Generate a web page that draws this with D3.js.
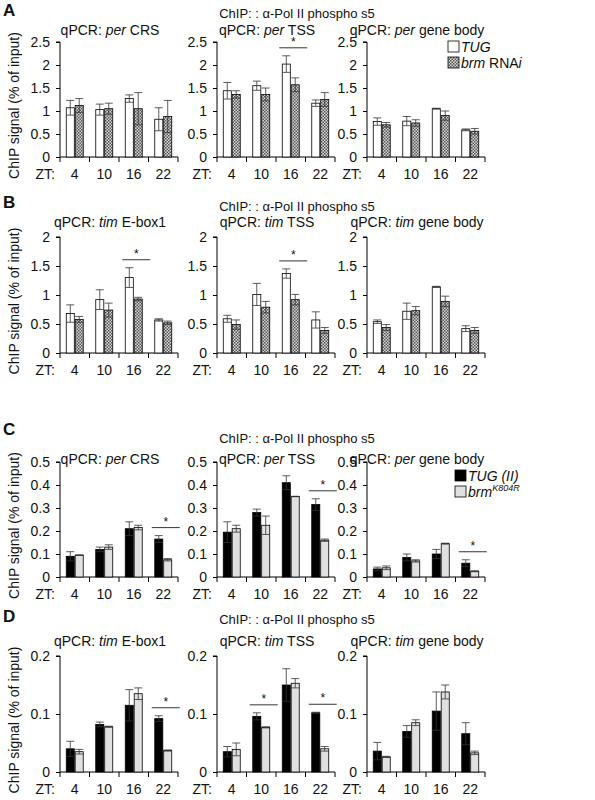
<!DOCTYPE html>
<html><head><meta charset="utf-8">
<script src="https://cdn.jsdelivr.net/npm/d3@7"></script>
<style>body{margin:0;background:#fff} text{font-family:"Liberation Sans",Arial,sans-serif;fill:#111}</style>
</head><body><svg id="c" width="595" height="800"></svg>
<script>
var zt = ["4", "10", "16", "22"];
var titles = {
  A: [["per", " CRS"], ["per", " TSS"], ["per", " gene body"]],
  B: [["tim", " E-box1"], ["tim", " TSS"], ["tim", " gene body"]]
};
titles.C = titles.A; titles.D = titles.B;

// values, errors: [plot][zt]
var aCtl = [[1.07,1.03,1.27,0.82],[1.44,1.55,2.02,1.17],[0.77,0.78,1.05,0.59]];
var aCtlE = [[0.16,0.12,0.08,0.25],[0.18,0.1,0.18,0.07],[0.08,0.1,0.01,0.02]];
var aMut = [[1.12,1.05,1.05,0.88],[1.36,1.36,1.57,1.25],[0.7,0.74,0.9,0.56]];
var aMutE = [[0.15,0.12,0.35,0.35],[0.08,0.14,0.15,0.15],[0.05,0.07,0.1,0.06]];
var aSig = [[],[2],[]];

var bCtl = [[0.68,0.92,1.3,0.57],[0.59,1.01,1.37,0.57],[0.54,0.72,1.14,0.42]];
var bCtlE = [[0.15,0.17,0.17,0.02],[0.06,0.19,0.08,0.14],[0.03,0.14,0.01,0.05]];
var bMut = [[0.58,0.74,0.93,0.52],[0.49,0.79,0.92,0.39],[0.44,0.73,0.89,0.39]];
var bMutE = [[0.05,0.12,0.03,0.03],[0.08,0.1,0.09,0.05],[0.05,0.07,0.09,0.05]];
var bSig = [[2],[2],[]];

var cCtl = [[0.09,0.12,0.21,0.165],[0.195,0.28,0.41,0.315],[0.035,0.085,0.1,0.06]];
var cCtlE = [[0.02,0.01,0.03,0.015],[0.045,0.015,0.03,0.025],[0.008,0.015,0.02,0.015]];
var cMut = [[0.095,0.13,0.215,0.075],[0.21,0.225,0.35,0.16],[0.04,0.07,0.145,0.025]];
var cMutE = [[0.001,0.01,0.01,0.005],[0.015,0.04,0.001,0.005],[0.008,0.005,0.002,0.002]];
var cSig = [[3],[3],[3]];

var dCtl = [[0.04,0.082,0.115,0.092],[0.035,0.096,0.15,0.102],[0.036,0.07,0.105,0.066]];
var dCtlE = [[0.013,0.004,0.027,0.005],[0.009,0.006,0.028,0.001],[0.015,0.01,0.033,0.019]];
var dMut = [[0.035,0.078,0.135,0.037],[0.039,0.077,0.153,0.04],[0.026,0.085,0.138,0.033]];
var dMutE = [[0.004,0.001,0.01,0.001],[0.011,0.001,0.008,0.004],[0.001,0.005,0.012,0.003]];
var dSig = [[3],[1,3],[]];

var oneDec = function(d){ return d === 0 ? "0" : d3.format(".1f")(d); };
var panels = [
  {id:"A", letterY:16, titleY:18, subY:35, y0:157, y1:42, max:2.5, ticks:[0,0.5,1,1.5,2,2.5], fmt:d3.format("~g"), ctl:aCtl, ctlE:aCtlE, mut:aMut, mutE:aMutE, sig:aSig, ctlFill:"#fff", mutFill:"url(#hatch)"},
  {id:"B", letterY:208, titleY:211, subY:227, y0:353, y1:237, max:2, ticks:[0,0.5,1,1.5,2], fmt:d3.format("~g"), ctl:bCtl, ctlE:bCtlE, mut:bMut, mutE:bMutE, sig:bSig, ctlFill:"#fff", mutFill:"url(#hatch)"},
  {id:"C", letterY:435, titleY:443, subY:464, y0:577, y1:462, max:0.5, ticks:[0,0.1,0.2,0.3,0.4,0.5], fmt:oneDec, ctl:cCtl, ctlE:cCtlE, mut:cMut, mutE:cMutE, sig:cSig, ctlFill:"#000", mutFill:"#e0e0e0"},
  {id:"D", letterY:622, titleY:624, subY:646, y0:772, y1:656, max:0.2, ticks:[0,0.1,0.2], fmt:oneDec, ctl:dCtl, ctlE:dCtlE, mut:dMut, mutE:dMutE, sig:dSig, ctlFill:"#000", mutFill:"#e0e0e0"}
];

var colX = [60, 217, 367], plotW = 118;
var svg = d3.select("#c");

var pat = svg.append("defs").append("pattern").attr("id", "hatch")
  .attr("width", 3).attr("height", 3).attr("patternUnits", "userSpaceOnUse");
pat.append("rect").attr("width", 3).attr("height", 3).attr("fill", "#d8d8d8");
pat.append("rect").attr("width", 1.5).attr("height", 1.5).attr("fill", "#555");
pat.append("rect").attr("x", 1.5).attr("y", 1.5).attr("width", 1.5).attr("height", 1.5).attr("fill", "#555");

panels.forEach(function(p) {
  var g = svg.append("g");
  g.append("text").attr("x", 3).attr("y", p.letterY).attr("font-size", 17).attr("font-weight", "bold").text(p.id);
  g.append("text").attr("x", 297).attr("y", p.titleY).attr("text-anchor", "middle").attr("font-size", 13)
    .text("ChIP: : α-Pol II phospho s5");
  g.append("text").attr("transform", "translate(19," + ((p.y0 + p.y1) / 2 + 6) + ") rotate(-90)")
    .attr("text-anchor", "middle").attr("font-size", 14).text("ChIP signal (% of input)");

  var y = d3.scaleLinear().domain([0, p.max]).range([p.y0, p.y1]);

  colX.forEach(function(x0, i) {
    var pg = g.append("g");
    var x = d3.scaleBand().domain(zt).range([x0, x0 + plotW]);
    var inner = d3.scaleBand().domain([0, 1]).range([0, x.bandwidth()]).paddingOuter(0.7).paddingInner(0.1);
    var t = titles[p.id][i];
    var tt = pg.append("text").attr("x", x0 + 50).attr("y", p.subY).attr("text-anchor", "middle").attr("font-size", 14);
    tt.append("tspan").text("qPCR: ");
    tt.append("tspan").attr("font-style", "italic").text(t[0]);
    tt.append("tspan").text(t[1]);

    var ya = pg.append("g").attr("transform", "translate(" + x0 + ",0)")
      .call(d3.axisLeft(y).tickValues(p.ticks).tickFormat(p.fmt).tickSize(4).tickPadding(6));
    ya.selectAll("text").attr("font-size", 14).style("font-family", "Liberation Sans, Arial");
    ya.select(".domain").attr("d", "M-4," + y(p.max) + "H0V" + y(0));

    pg.append("line").attr("x1", x0).attr("x2", x0 + plotW).attr("y1", p.y0).attr("y2", p.y0).attr("stroke", "#000");
    d3.range(5).forEach(function(k) {
      var bx = x0 + k * x.bandwidth();
      pg.append("line").attr("x1", bx).attr("x2", bx).attr("y1", p.y0).attr("y2", p.y0 + 5).attr("stroke", "#000");
    });
    pg.append("text").attr("x", x0 - 5).attr("y", p.y0 + 22).attr("text-anchor", "end").attr("font-size", 14).text("ZT:");
    zt.forEach(function(z) {
      pg.append("text").attr("x", x(z) + x.bandwidth() / 2).attr("y", p.y0 + 22).attr("text-anchor", "middle").attr("font-size", 14).text(z);
    });

    var series = [[p.ctl[i], p.ctlE[i], p.ctlFill], [p.mut[i], p.mutE[i], p.mutFill]];
    series.forEach(function(s, si) {
      var bars = zt.map(function(z, k) { return {z: z, v: s[0][k], e: s[1][k]}; });
      pg.selectAll(null).data(bars).enter().append("rect")
        .attr("x", function(d) { return x(d.z) + inner(si); })
        .attr("width", inner.bandwidth())
        .attr("y", function(d) { return y(d.v); })
        .attr("height", function(d) { return y(0) - y(d.v); })
        .attr("fill", s[2]).attr("stroke", "#000").attr("stroke-width", 0.8);
      bars.forEach(function(d) {
        var cx = x(d.z) + inner(si) + inner.bandwidth() / 2;
        var path = "M" + cx + "," + y(d.v - d.e) + "V" + y(d.v + d.e) +
          "M" + (cx - 4) + "," + y(d.v + d.e) + "h8M" + (cx - 4) + "," + y(d.v - d.e) + "h8";
        pg.append("path").attr("d", path).attr("stroke", "#333")
          .attr("stroke-width", 0.8).attr("fill", "none");
      });
    });

    p.sig[i].forEach(function(k) {
      var z = zt[k];
      var top = d3.max([p.ctl[i][k] + p.ctlE[i][k], p.mut[i][k] + p.mutE[i][k]]);
      var ly = y(top) - 8;
      var lx = x(z) + inner(0) - 3, rx = x(z) + inner(1) + inner.bandwidth() + 8;
      pg.append("line").attr("x1", lx).attr("x2", rx).attr("y1", ly).attr("y2", ly).attr("stroke", "#000").attr("stroke-width", 0.8);
      pg.append("text").attr("x", (lx + rx) / 2).attr("y", ly - 2).attr("text-anchor", "middle").attr("font-size", 12).text("*");
    });
  });
});

// legends
function legend(lx, ly, fills, labels) {
  var lg = svg.append("g");
  fills.forEach(function(f, i) {
    lg.append("rect").attr("x", lx).attr("y", ly + i * 16 - 11).attr("width", 11).attr("height", 11)
      .attr("fill", f).attr("stroke", "#000").attr("stroke-width", 0.8);
    var t = lg.append("text").attr("x", lx + 13).attr("y", ly + i * 16).attr("font-size", 14);
    labels[i].forEach(function(part) {
      var ts = t.append("tspan").text(part[0]);
      if (part[1]) ts.attr("font-style", "italic");
      if (part[2]) ts.attr("font-size", 9).attr("dy", -6);
    });
  });
}
legend(448, 52, ["#fff", "url(#hatch)"], [[["TUG", 1]], [["brm", 1], [" RNA"], ["i", 1]]]);
legend(455, 481, ["#000", "#e0e0e0"], [[["TUG (II)", 1]], [["brm", 1], ["K804R", 1, 1]]]);
</script></body></html>
